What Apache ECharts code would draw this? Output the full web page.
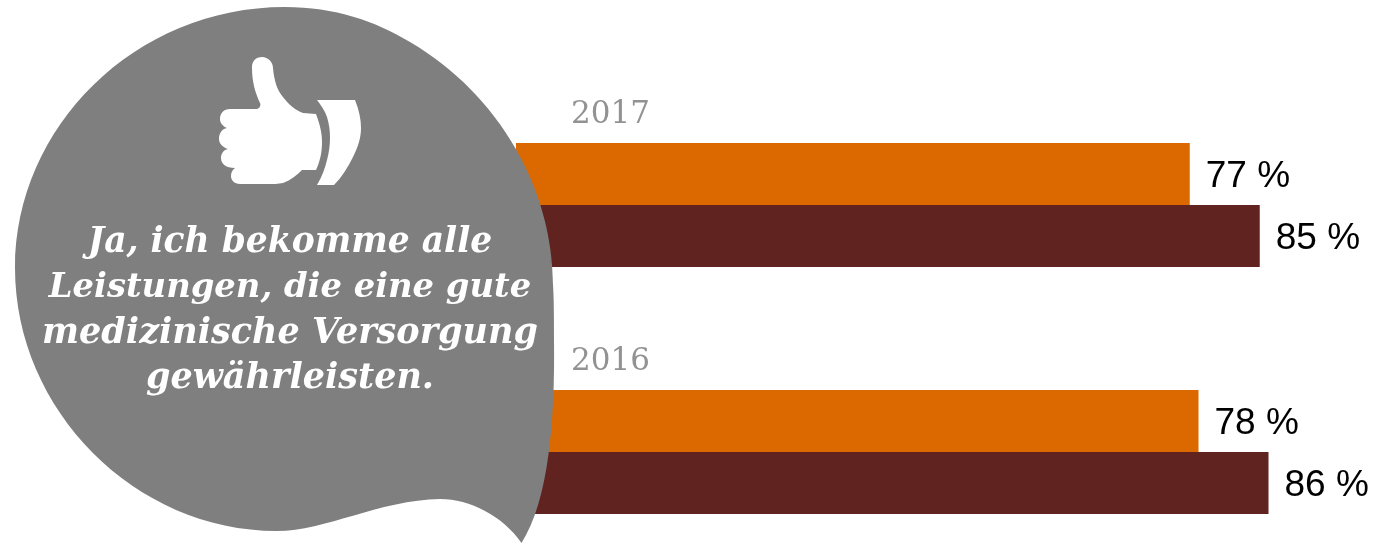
<!DOCTYPE html>
<html><head><meta charset="utf-8">
<style>html,body{margin:0;padding:0;background:#fff}#c{width:1394px;height:543px}</style>
<script src="https://cdn.jsdelivr.net/npm/echarts@6/dist/echarts.min.js"></script>
</head><body><div id="c"></div>
<script>
var categories = ['2017', '2016'];
var seriesA = [77, 78];
var seriesB = [85, 86];
var calloutLines = ['Ja, ich bekomme alle', 'Leistungen, die eine gute', 'medizinische Versorgung', 'gewährleisten.'];
var calloutSizes = [34.5, 33.8, 35, 35];

var bubblePath = 'M285 7C135 7 15 127 15 268C15 410 135 531 277 531C325 531 380 500 440 499C470 499 503 516 521.5 543C549 500 555 420 554 340C554 320 554 300 553 285C553 190 500 95 410 42C375 21 335 7 285 7Z';
var handPath = 'M252 67C252 61 256 57 262 57C268 57 273 62 273 68C274 80 277 90 283 97C288 104 295 110 303 113L316 114C320 125 322 133 322 142C322 153 320 161 316 170L302 170C297 175 291 180 283 183C278 184 273 184 268 184L240 184C234 184 231 180 231 176C231 173 232 170 235 168C226 168 221 164 221 158C221 154 223 150 228 149C222 147 219 143 219 139C219 133 222 129 227 128C222 126 220 122 220 119C220 113 224 109 230 109L257 109C260 108 261 105 260 103C255 92 252 82 252 67Z';
var cuffPath = 'M317 100L355 100C359 110 361 119 361 128C361 138 358 147 353 157C348 167 342 177 334 185L317 185C322 177 325 168 327 160C331 145 331 130 327 117C325 111 321 105 317 100Z';

echarts.graphic.registerShape('bubbleShape', echarts.graphic.extendPath(bubblePath));
echarts.graphic.registerShape('handShape', echarts.graphic.extendPath(handPath));
echarts.graphic.registerShape('cuffShape', echarts.graphic.extendPath(cuffPath));

var chart = echarts.init(document.getElementById('c'), null, {renderer: 'canvas'});
var lineBaseCenter = 243.5, lineGap = 45;
var textEls = calloutLines.map(function (t, i) {
  return {type: 'text', z: 102, x: 290, y: lineBaseCenter + i * lineGap,
    style: {text: t, fill: '#fff', font: 'italic bold ' + calloutSizes[i] + 'px "DejaVu Serif"', align: 'center', verticalAlign: 'middle'}};
});
var valueLabel = {show: true, position: 'right', distance: 16, offset: [0, 3], color: '#000', fontFamily: 'Liberation Sans', fontSize: 37, formatter: '{c} %'};
chart.setOption({
  animation: false,
  grid: {left: 516, width: 875, top: 81.5, height: 494, outerBoundsMode: 'none'},
  xAxis: {type: 'value', min: 0, max: 100, show: false},
  yAxis: {type: 'category', inverse: true, data: categories,
    axisLine: {show: false}, axisTick: {show: false}, splitLine: {show: false}, axisLabel: {show: false}},
  series: [
    {type: 'bar', data: seriesA, barWidth: 62, barGap: 0, itemStyle: {color: '#dc6900'}, label: valueLabel},
    {type: 'bar', data: seriesB, barWidth: 62, barGap: 0, itemStyle: {color: '#602320'}, label: valueLabel},
    {type: 'scatter', symbolSize: 0, silent: true, z: 5,
     data: categories.map(function (c) { return [0, c]; }),
     label: {show: true, position: 'right', offset: [50, -90], color: '#777', fontFamily: 'DejaVu Serif', fontSize: 31,
       formatter: function (p) { return p.value[1]; }}}
  ],
  graphic: {elements: [
    {type: 'bubbleShape', z: 100, style: {fill: '#7f7f7f'}},
    {type: 'handShape', z: 101, style: {fill: '#fff'}},
    {type: 'cuffShape', z: 101, style: {fill: '#fff'}}
  ].concat(textEls)}
});
</script></body></html>
